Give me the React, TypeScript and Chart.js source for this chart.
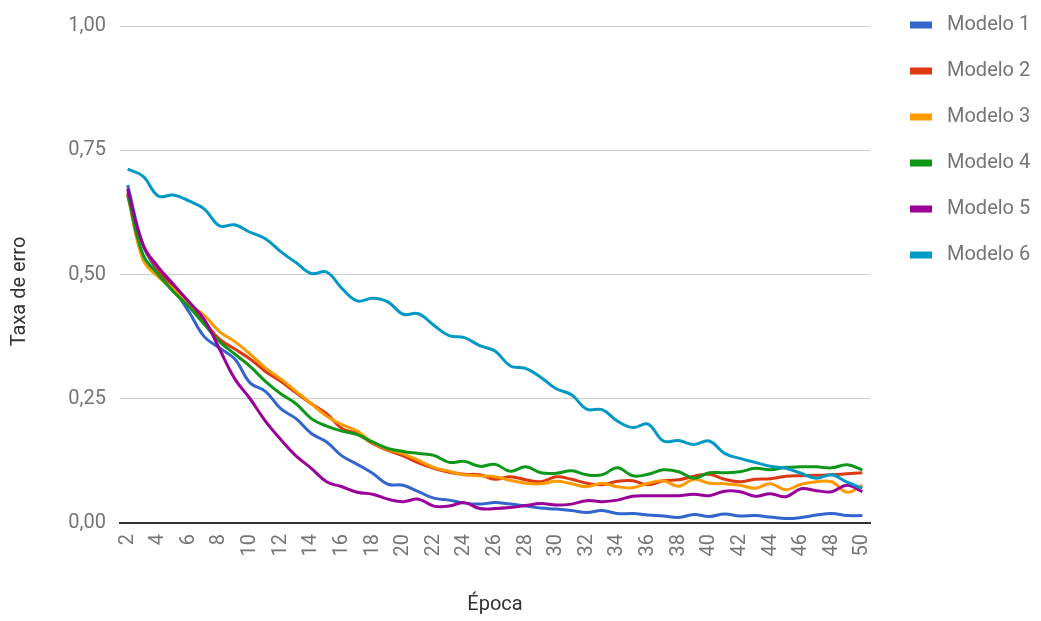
import React, { useEffect, useRef } from "react";
import { Chart, registerables } from "chart.js";

Chart.register(...registerables);

const epochs: string[] = [];
for (let e = 2; e <= 50; e++) epochs.push(String(e));

const seriesNames = ["Modelo 1", "Modelo 2", "Modelo 3", "Modelo 4", "Modelo 5", "Modelo 6"];
const seriesColors = ["#3366cc", "#dc3912", "#ff9900", "#109618", "#990099", "#0099c6"];

const modelo1 = [0.680, 0.560, 0.505, 0.470, 0.425, 0.375, 0.352, 0.330, 0.282, 0.265, 0.230, 0.210, 0.180, 0.163, 0.135, 0.118, 0.100, 0.078, 0.076, 0.063, 0.050, 0.046, 0.040, 0.038, 0.041, 0.038, 0.034, 0.030, 0.028, 0.025, 0.021, 0.025, 0.019, 0.019, 0.016, 0.014, 0.011, 0.017, 0.013, 0.018, 0.014, 0.015, 0.012, 0.009, 0.011, 0.016, 0.019, 0.015, 0.015];
const modelo2 = [0.665, 0.560, 0.510, 0.475, 0.440, 0.405, 0.370, 0.350, 0.330, 0.305, 0.285, 0.262, 0.240, 0.220, 0.190, 0.180, 0.160, 0.146, 0.135, 0.121, 0.110, 0.102, 0.098, 0.097, 0.088, 0.093, 0.087, 0.083, 0.093, 0.088, 0.080, 0.077, 0.084, 0.085, 0.077, 0.085, 0.087, 0.094, 0.098, 0.088, 0.083, 0.088, 0.089, 0.094, 0.095, 0.096, 0.097, 0.099, 0.101];
const modelo3 = [0.660, 0.530, 0.495, 0.470, 0.440, 0.418, 0.385, 0.365, 0.340, 0.312, 0.290, 0.265, 0.240, 0.215, 0.198, 0.185, 0.162, 0.148, 0.139, 0.126, 0.112, 0.104, 0.097, 0.095, 0.093, 0.086, 0.080, 0.079, 0.084, 0.079, 0.073, 0.080, 0.073, 0.071, 0.080, 0.085, 0.074, 0.088, 0.080, 0.079, 0.076, 0.070, 0.079, 0.067, 0.078, 0.083, 0.083, 0.062, 0.076];
const modelo4 = [0.660, 0.540, 0.500, 0.465, 0.435, 0.400, 0.365, 0.340, 0.315, 0.285, 0.260, 0.240, 0.210, 0.195, 0.185, 0.178, 0.163, 0.150, 0.144, 0.140, 0.136, 0.122, 0.124, 0.114, 0.118, 0.104, 0.113, 0.101, 0.100, 0.105, 0.097, 0.097, 0.111, 0.095, 0.098, 0.107, 0.103, 0.090, 0.101, 0.101, 0.103, 0.110, 0.107, 0.112, 0.113, 0.113, 0.111, 0.117, 0.107];
const modelo5 = [0.672, 0.560, 0.515, 0.480, 0.445, 0.410, 0.350, 0.290, 0.250, 0.205, 0.168, 0.135, 0.110, 0.083, 0.073, 0.062, 0.058, 0.048, 0.043, 0.048, 0.034, 0.034, 0.041, 0.029, 0.029, 0.031, 0.035, 0.039, 0.036, 0.038, 0.045, 0.043, 0.046, 0.054, 0.055, 0.055, 0.055, 0.058, 0.055, 0.064, 0.063, 0.054, 0.059, 0.053, 0.069, 0.065, 0.063, 0.076, 0.063];
const modelo6 = [0.712, 0.698, 0.658, 0.660, 0.648, 0.632, 0.598, 0.600, 0.585, 0.572, 0.546, 0.524, 0.502, 0.505, 0.472, 0.447, 0.452, 0.445, 0.420, 0.421, 0.398, 0.377, 0.373, 0.357, 0.346, 0.316, 0.311, 0.293, 0.270, 0.258, 0.229, 0.228, 0.205, 0.192, 0.199, 0.165, 0.166, 0.158, 0.165, 0.140, 0.130, 0.122, 0.114, 0.110, 0.100, 0.090, 0.097, 0.082, 0.070];

const seriesValues = [modelo1, modelo2, modelo3, modelo4, modelo5, modelo6];

const yTicks = [0, 0.25, 0.5, 0.75, 1];
const yTitle = "Taxa de erro";

const sideLegend = {
  id: "sideLegend",
  afterDraw(chart: any) {
    const ctx = chart.ctx;
    const area = chart.chartArea;
    ctx.save();
    ctx.font = "20px Roboto";
    ctx.textBaseline = "middle";
    ctx.textAlign = "left";
    chart.data.datasets.forEach((ds: any, i: number) => {
      const y = area.top - 1 + i * 46;
      ctx.fillStyle = ds.borderColor;
      ctx.fillRect(area.right + 40, y - 3.5, 22, 7);
      ctx.fillStyle = "#757575";
      ctx.fillText(ds.label, area.right + 77, y);
    });
    // y-axis title
    ctx.translate(20, (area.top + area.bottom) / 2 + 17);
    ctx.rotate(-Math.PI / 2);
    ctx.textAlign = "center";
    ctx.fillStyle = "#333333";
    ctx.fillText(yTitle, 0, 0);
    ctx.restore();
  },
};

export default function App() {
  const canvasRef = useRef<HTMLCanvasElement | null>(null);

  useEffect(() => {
    document.body.style.margin = "0";
    const canvas = canvasRef.current;
    if (!canvas) return;
    const chart = new Chart(canvas, {
      type: "line",
      data: {
        labels: epochs,
        datasets: seriesNames.map((name, i) => ({
          label: name,
          data: seriesValues[i],
          borderColor: seriesColors[i],
          backgroundColor: seriesColors[i],
          borderWidth: 3,
          pointRadius: 0,
          pointHoverRadius: 0,
          tension: 0.4,
          fill: false,
          order: seriesNames.length - i,
        })),
      },
      options: {
        animation: false,
        responsive: true,
        maintainAspectRatio: false,
        layout: { padding: { top: 23, right: 171, left: 0, bottom: 0 } },
        plugins: {
          legend: { display: false },
          tooltip: { enabled: false },
        },
        scales: {
          x: {
            type: "category",
            offset: true,
            afterFit: (scale: any) => {
              scale.height = 98;
            },
            grid: { display: false, drawTicks: false },
            border: { display: true, color: "#333333", width: 2 },
            ticks: {
              autoSkip: false,
              maxRotation: 90,
              minRotation: 90,
              padding: 11,
              color: "#757575",
              font: { family: "Roboto", size: 20 },
              callback: function (_v: any, idx: number) {
                const lab = epochs[idx];
                return Number(lab) % 2 === 0 ? lab : null;
              },
            },
            title: {
              display: true,
              text: "Época",
              color: "#333333",
              font: { family: "Roboto", size: 20 },
              padding: { top: 0, bottom: 4 },
            },
          },
          y: {
            min: 0,
            max: 1,
            afterFit: (scale: any) => {
              scale.width = 120;
            },
            afterBuildTicks: (scale: any) => {
              scale.ticks = yTicks.map((v) => ({ value: v }));
            },
            grid: { color: "#cccccc", lineWidth: 1, drawTicks: false },
            border: { display: false },
            ticks: {
              padding: 14,
              color: "#757575",
              font: { family: "Roboto", size: 20 },
              callback: (v: any) => Number(v).toFixed(2).replace(".", ","),
            },
            title: { display: false },
          },
        },
      },
      plugins: [sideLegend],
    });
    return () => chart.destroy();
  }, []);

  return (
    <div style={{ width: 1041, height: 621, position: "relative" }}>
      <canvas ref={canvasRef} />
    </div>
  );
}
